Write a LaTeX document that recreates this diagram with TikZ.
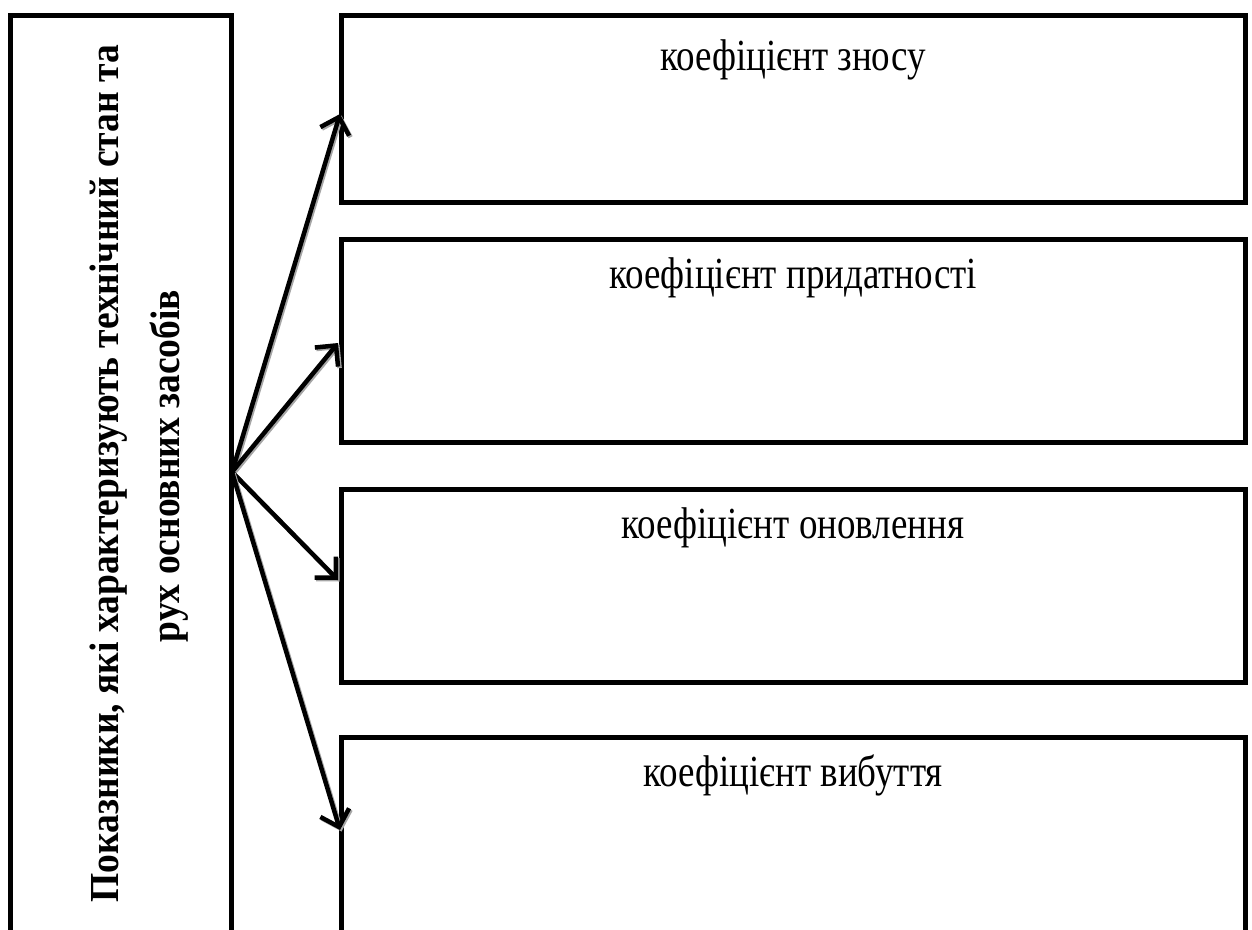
\documentclass[tikz,border=0pt]{standalone}
\usepackage{fontspec}
\setmainfont{Liberation Serif}
\usetikzlibrary{arrows.meta}
\newcommand{\vstretch}[2]{\scalebox{1}[#1]{#2}}
\begin{document}
\begin{tikzpicture}[x=1pt,y=-1pt,
  boxline/.style={draw=black,line width=5pt},
  lbl/.style={font=\fontsize{37}{40}\selectfont,anchor=base,inner sep=0pt},
  ttl/.style={rotate=90,font=\bfseries\fontsize{37.5}{40}\selectfont,anchor=base,inner sep=0pt},
  conn/.style={-{Straight Barb[length=15pt,width=30pt,line width=4.5pt]},line width=4.5pt,line cap=round,
    preaction={draw=black!35,line width=4.5pt,transform canvas={shift={(1.5pt,-1.5pt)}}}}]
\useasboundingbox (0,0) rectangle (1252,929);
% left box
\draw[boxline] (10,15) rectangle (231,960);
\node[ttl] (title1) at (118,473.5) {\vstretch{1.1}{Показники, які характеризують технічний стан та}};
\node[ttl] (title2) at (179,466) {\vstretch{1.1}{рух основних засобів}};
% right boxes
\draw[boxline] (341,15) rectangle (1245,202);
\draw[boxline] (341,239) rectangle (1245,442);
\draw[boxline] (341,489) rectangle (1245,682);
\draw[boxline] (341,737) rectangle (1245,960);
\node[lbl] (t1) at (793,70) {\vstretch{1.2}{коефіцієнт зносу}};
\node[lbl] (t2) at (793,288) {\vstretch{1.2}{коефіцієнт придатності}};
\node[lbl] (t3) at (793,538) {\vstretch{1.2}{коефіцієнт оновлення}};
\node[lbl] (t4) at (793,786) {\vstretch{1.2}{коефіцієнт вибуття}};
% connectors
\coordinate (src) at (232,472);
\coordinate (e1) at (340,114);
\coordinate (e2) at (338,343);
\coordinate (e3) at (338,580);
\coordinate (e4) at (340,830);
\draw[conn] (src) -- (e1);
\draw[conn] (src) -- (e2);
\draw[conn] (src) -- (e3);
\draw[conn] (src) -- (e4);
\end{tikzpicture}
\end{document}
